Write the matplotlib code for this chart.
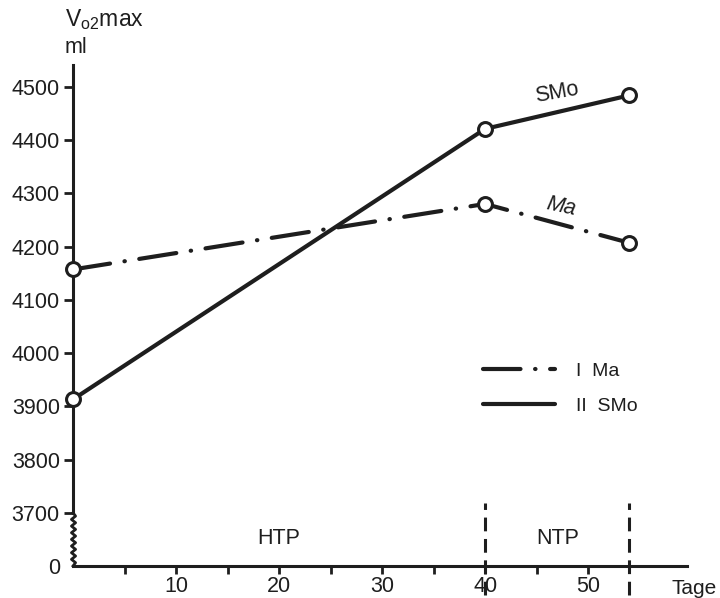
import numpy as np
import matplotlib
matplotlib.use("Agg")
import matplotlib.pyplot as plt

plt.rcParams["font.family"] = ["Liberation Sans", "DejaVu Sans"]

# data
days = [0, 40, 54]
smo_vo2 = [3913, 4421, 4484]
ma_vo2 = [4157, 4280, 4207]
y_ticks = [3700, 3800, 3900, 4000, 4100, 4200, 4300, 4400, 4500]
x_ticks = [10, 20, 30, 40, 50]
x_minor = [5, 15, 25, 35, 45]
phase_bounds = [40, 54]
phase_names = ["HTP", "NTP"]
phase_centres = [20, 47]

# the axis is broken: "0" sits one step below 3700
zero_pos = 3600
ink = "#1e1e1e"
fs = 15.5

fig = plt.figure(figsize=(7.2, 5.98), dpi=100)
ax = fig.add_axes([73 / 720, 32 / 598, 614 / 720, 501 / 598])
ax.set_xlim(0, 59.6)
ax.set_ylim(zero_pos, 4541)

lw = 3
ax.plot(days, smo_vo2, color=ink, lw=lw, solid_capstyle="round",
        marker="o", ms=10, mfc="white", mec=ink, mew=2.2,
        label="II  SMo", clip_on=False, zorder=4)
ax.plot(days, ma_vo2, color=ink, lw=lw, dash_capstyle="round",
        linestyle=(0, (9, 3.5, 0.1, 3.5)),
        marker="o", ms=10, mfc="white", mec=ink, mew=2.2,
        label="I  Ma", clip_on=False, zorder=4)

# spines
for s in ["top", "right"]:
    ax.spines[s].set_visible(False)
for s in ["left", "bottom"]:
    ax.spines[s].set_linewidth(2.2)
    ax.spines[s].set_color(ink)
ax.spines["left"].set_bounds(3700, 4541)

# zigzag for the axis break
zz_y = np.linspace(zero_pos, 3700, 17)
zz_x = np.where(np.arange(17) % 2 == 0, -0.15, 0.25)
zz_x[0] = zz_x[-1] = 0
ax.plot(zz_x, zz_y, color=ink, lw=2, clip_on=False)

ax.set_yticks([zero_pos] + y_ticks, ["0"] + [str(v) for v in y_ticks])
ax.yaxis.get_major_ticks()[0].tick1line.set_visible(False)
ax.tick_params(axis="y", length=6.5, width=2, pad=3, labelsize=fs,
               colors=ink)
ax.set_xticks(x_ticks)
ax.set_xticks(x_minor, minor=True)
ax.tick_params(axis="x", which="both", direction="out", length=6, width=2,
               pad=1, labelsize=fs, colors=ink)

# phase boundaries and names
for b in phase_bounds:
    ax.plot([b, b], [zero_pos - 55, 3718], color=ink, lw=2.2,
            linestyle=(0, (4.5, 2.5)), clip_on=False, zorder=3)
for name, c in zip(phase_names, phase_centres):
    ax.text(c, 3651, name, ha="center", va="center", fontsize=fs,
            color=ink)

# line labels
ax.text(47, 4488, "SMo", ha="center", va="center", fontsize=fs,
        rotation=10, color=ink)
ax.text(47.4, 4275, "Ma", ha="center", va="center", fontsize=fs,
        style="italic", rotation=-12, color=ink)

ax.text(0.974, -0.045, "Tage", transform=ax.transAxes, ha="left",
        va="center", fontsize=15, color=ink)

fig.text(65 / 720, 1 - 26 / 598, r"V$_{\mathregular{o2}}$max", ha="left",
         va="baseline", fontsize=16.5, color=ink)
fig.text(65 / 720, 1 - 53 / 598, "ml", ha="left", va="baseline",
         fontsize=fs, color=ink)

handles, labels = ax.get_legend_handles_labels()
leg = ax.legend(handles[::-1], labels[::-1], loc="upper left",
                bbox_to_anchor=(0.668, 0.407), frameon=False, fontsize=14,
                handlelength=3.7, handletextpad=1.1, labelspacing=0.9,
                borderpad=0, borderaxespad=0)
for h in leg.legend_handles:
    h.set_marker("")
for t in leg.get_texts():
    t.set_color(ink)

fig.savefig("out.png", dpi=100)
